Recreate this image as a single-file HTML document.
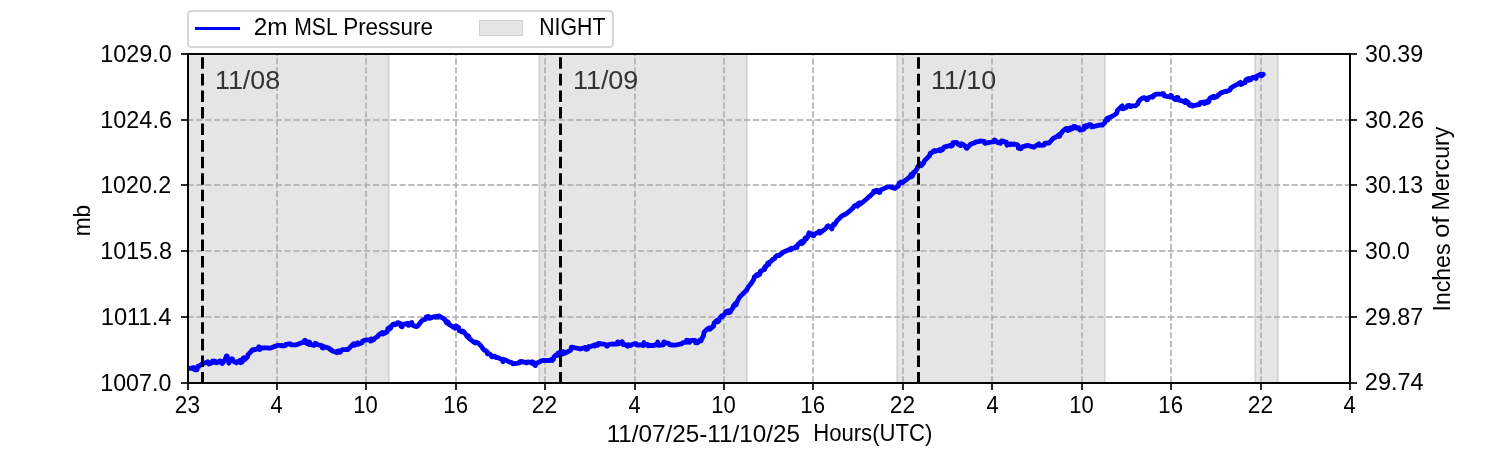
<!DOCTYPE html><html><head><meta charset="utf-8"><style>html,body{margin:0;padding:0;background:#fff;overflow:hidden}svg{display:block;will-change:transform}text{font-family:"Liberation Sans",sans-serif;white-space:pre}.tx{opacity:0.999}</style></head><body>
<svg width="1500" height="450" viewBox="0 0 1500 450">
<rect x="0" y="0" width="1500" height="450" fill="#fff"/>
<g shape-rendering="crispEdges">
<rect x="187" y="53" width="203" height="331" fill="#e5e5e5"/>
<rect x="388" y="53" width="1" height="331" fill="#d0d0d0"/>
<rect x="538" y="53" width="210" height="331" fill="#e5e5e5"/>
<rect x="539" y="53" width="1" height="331" fill="#d0d0d0"/>
<rect x="746" y="53" width="1" height="331" fill="#d0d0d0"/>
<rect x="896" y="53" width="210" height="331" fill="#e5e5e5"/>
<rect x="897" y="53" width="1" height="331" fill="#d0d0d0"/>
<rect x="1104" y="53" width="1" height="331" fill="#d0d0d0"/>
<rect x="1254" y="53" width="25" height="331" fill="#e5e5e5"/>
<rect x="1255" y="53" width="1" height="331" fill="#d0d0d0"/>
<rect x="1277" y="53" width="1" height="331" fill="#d0d0d0"/>
</g>
<g stroke="#b0b0b0" stroke-opacity="0.835" stroke-width="2" fill="none">
<path d="M277 382.5V54.0" stroke-dasharray="6.1667 2.6667"/>
<path d="M366 382.5V54.0" stroke-dasharray="6.1667 2.6667"/>
<path d="M456 382.5V54.0" stroke-dasharray="6.1667 2.6667"/>
<path d="M545 382.5V54.0" stroke-dasharray="6.1667 2.6667"/>
<path d="M635 382.5V54.0" stroke-dasharray="6.1667 2.6667"/>
<path d="M724 382.5V54.0" stroke-dasharray="6.1667 2.6667"/>
<path d="M813 382.5V54.0" stroke-dasharray="6.1667 2.6667"/>
<path d="M903 382.5V54.0" stroke-dasharray="6.1667 2.6667"/>
<path d="M992 382.5V54.0" stroke-dasharray="6.1667 2.6667"/>
<path d="M1082 382.5V54.0" stroke-dasharray="6.1667 2.6667"/>
<path d="M1171 382.5V54.0" stroke-dasharray="6.1667 2.6667"/>
<path d="M1261 382.5V54.0" stroke-dasharray="6.1667 2.6667"/>
<path d="M187.5 317H1350.0" stroke-dasharray="6.1667 2.6667"/>
<path d="M187.5 251H1350.0" stroke-dasharray="6.1667 2.6667"/>
<path d="M187.5 185H1350.0" stroke-dasharray="6.1667 2.6667"/>
<path d="M187.5 120H1350.0" stroke-dasharray="6.1667 2.6667"/>
</g>
<defs><clipPath id="ax"><rect x="187.5" y="54" width="1162.5" height="328.5"/></clipPath></defs>
<path clip-path="url(#ax)" d="M188.0 368.5 L188.6 368.4 L189.2 368.3 L189.8 368.3 L190.4 368.3 L191.0 368.2 L191.6 368.3 L192.2 368.2 L192.8 368.2 L193.4 367.5 L194.0 369.3 L194.6 369.2 L195.2 369.8 L195.8 369.8 L196.4 369.8 L197.0 369.8 L197.6 366.3 L198.2 366.3 L198.8 366.6 L199.4 365.6 L200.0 365.3 L200.6 364.9 L201.2 364.6 L201.8 364.2 L202.4 363.9 L203.0 363.6 L203.6 363.4 L204.2 363.2 L204.8 363.0 L205.4 362.7 L206.0 362.5 L206.6 362.3 L207.2 362.0 L207.8 361.8 L208.4 362.5 L209.0 364.0 L209.6 363.8 L210.2 363.5 L210.8 363.3 L211.4 363.1 L212.0 363.0 L212.6 361.0 L213.2 361.1 L213.8 361.1 L214.4 361.1 L215.0 361.2 L215.6 362.7 L216.2 362.8 L216.8 362.8 L217.4 361.8 L218.0 361.8 L218.6 361.9 L219.2 361.6 L219.8 361.0 L220.4 361.0 L221.0 362.8 L221.6 362.9 L222.2 363.5 L222.8 362.9 L223.4 361.7 L224.0 360.8 L224.6 360.4 L225.2 359.6 L225.8 357.7 L226.4 355.9 L227.0 355.8 L227.6 357.8 L228.2 359.8 L228.8 363.2 L229.4 360.2 L230.0 360.0 L230.6 359.7 L231.2 359.4 L231.8 358.6 L232.4 358.9 L233.0 361.0 L233.6 361.3 L234.2 361.7 L234.8 362.0 L235.4 362.3 L236.0 362.6 L236.6 362.9 L237.2 361.6 L237.8 361.6 L238.4 361.2 L239.0 361.0 L239.6 360.7 L240.2 360.3 L240.8 362.7 L241.4 362.4 L242.0 362.0 L242.6 361.7 L243.2 358.1 L243.8 357.7 L244.4 359.8 L245.0 359.4 L245.6 358.8 L246.2 358.2 L246.8 357.6 L247.4 357.1 L248.0 354.7 L248.6 354.1 L249.2 353.5 L249.8 352.9 L250.4 352.3 L251.0 351.7 L251.6 350.4 L252.2 350.0 L252.8 349.7 L253.4 350.0 L254.0 349.7 L254.6 349.4 L255.2 349.7 L255.8 349.4 L256.4 349.1 L257.0 348.8 L257.6 348.5 L258.2 348.2 L258.8 346.7 L259.4 349.6 L260.0 349.3 L260.6 349.0 L261.2 347.8 L261.8 347.9 L262.4 347.9 L263.0 347.9 L263.6 348.0 L264.2 347.7 L264.8 347.8 L265.4 347.8 L266.0 347.8 L266.6 347.9 L267.2 347.9 L267.8 348.0 L268.4 348.0 L269.0 348.1 L269.6 348.1 L270.2 348.2 L270.8 348.0 L271.4 347.7 L272.0 347.5 L272.6 347.2 L273.2 347.0 L273.8 346.7 L274.4 346.5 L275.0 346.2 L275.6 346.3 L276.2 346.1 L276.8 345.8 L277.4 345.6 L278.0 345.3 L278.6 345.2 L279.2 345.3 L279.8 345.3 L280.4 345.4 L281.0 345.8 L281.6 345.3 L282.2 345.4 L282.8 345.8 L283.4 345.8 L284.0 345.8 L284.6 345.9 L285.2 345.9 L285.8 344.5 L286.4 344.6 L287.0 344.1 L287.6 344.1 L288.2 344.0 L288.8 344.0 L289.4 344.0 L290.0 344.0 L290.6 344.0 L291.2 344.9 L291.8 344.9 L292.4 344.9 L293.0 344.8 L293.6 344.8 L294.2 344.8 L294.8 344.8 L295.4 345.0 L296.0 344.9 L296.6 344.7 L297.2 344.5 L297.8 344.3 L298.4 344.1 L299.0 343.8 L299.6 343.6 L300.2 343.2 L300.8 343.0 L301.4 342.9 L302.0 342.7 L302.6 342.5 L303.2 342.3 L303.8 342.1 L304.4 340.5 L305.0 340.3 L305.6 343.0 L306.2 343.2 L306.8 343.4 L307.4 343.6 L308.0 341.7 L308.6 341.9 L309.2 344.6 L309.8 342.3 L310.4 344.3 L311.0 344.5 L311.6 344.7 L312.2 344.9 L312.8 345.1 L313.4 345.2 L314.0 345.4 L314.6 344.9 L315.2 343.3 L315.8 343.5 L316.4 343.6 L317.0 344.6 L317.6 344.7 L318.2 344.9 L318.8 345.0 L319.4 345.1 L320.0 345.2 L320.6 345.3 L321.2 345.4 L321.8 345.5 L322.4 348.0 L323.0 348.1 L323.6 346.5 L324.2 346.7 L324.8 346.9 L325.4 347.0 L326.0 347.2 L326.6 347.4 L327.2 347.6 L327.8 347.8 L328.4 348.0 L329.0 348.1 L329.6 349.3 L330.2 349.5 L330.8 349.7 L331.4 349.9 L332.0 350.8 L332.6 351.0 L333.2 351.3 L333.8 351.5 L334.4 351.7 L335.0 352.0 L335.6 352.2 L336.2 352.4 L336.8 352.7 L337.4 351.1 L338.0 351.0 L338.6 351.0 L339.2 351.0 L339.8 352.3 L340.4 352.2 L341.0 350.5 L341.6 350.4 L342.2 349.7 L342.8 349.7 L343.4 349.7 L344.0 349.6 L344.6 349.6 L345.2 349.6 L345.8 349.5 L346.4 349.5 L347.0 349.7 L347.6 349.7 L348.2 349.2 L348.8 348.6 L349.4 348.0 L350.0 347.4 L350.6 346.8 L351.2 346.1 L351.8 345.5 L352.4 344.9 L353.0 344.3 L353.6 343.7 L354.2 345.4 L354.8 345.1 L355.4 344.9 L356.0 344.6 L356.6 343.3 L357.2 343.0 L357.8 342.8 L358.4 344.2 L359.0 343.9 L359.6 343.7 L360.2 343.5 L360.8 343.3 L361.4 343.0 L362.0 342.8 L362.6 341.0 L363.2 340.8 L363.8 340.6 L364.4 340.4 L365.0 340.1 L365.6 340.1 L366.2 339.8 L366.8 339.8 L367.4 339.8 L368.0 339.8 L368.6 339.8 L369.2 340.4 L369.8 340.4 L370.4 341.0 L371.0 338.9 L371.6 340.7 L372.2 340.4 L372.8 340.0 L373.4 339.6 L374.0 339.4 L374.6 338.3 L375.2 337.9 L375.8 337.6 L376.4 337.3 L377.0 336.9 L377.6 336.5 L378.2 336.2 L378.8 334.6 L379.4 334.3 L380.0 333.9 L380.6 333.6 L381.2 333.2 L381.8 332.8 L382.4 332.5 L383.0 334.1 L383.6 333.7 L384.2 333.3 L384.8 333.0 L385.4 332.5 L386.0 332.0 L386.6 332.4 L387.2 331.8 L387.8 328.6 L388.4 328.0 L389.0 327.5 L389.6 329.1 L390.2 328.5 L390.8 328.0 L391.4 325.9 L392.0 325.5 L392.6 324.6 L393.2 324.4 L393.8 324.1 L394.4 323.9 L395.0 324.8 L395.6 324.5 L396.2 324.3 L396.8 324.1 L397.4 322.6 L398.0 322.6 L398.6 322.8 L399.2 323.0 L399.8 323.2 L400.4 323.9 L401.0 326.4 L401.6 326.6 L402.2 326.8 L402.8 324.2 L403.4 324.3 L404.0 324.3 L404.6 324.2 L405.2 324.0 L405.8 323.8 L406.4 323.6 L407.0 323.5 L407.6 323.3 L408.2 325.4 L408.8 325.3 L409.4 324.2 L410.0 324.0 L410.6 323.9 L411.2 322.6 L411.8 322.5 L412.4 325.3 L413.0 325.5 L413.6 325.7 L414.2 325.9 L414.8 326.1 L415.4 326.2 L416.0 326.4 L416.6 326.6 L417.2 326.5 L417.8 325.7 L418.4 325.0 L419.0 324.2 L419.6 323.5 L420.2 322.7 L420.8 322.0 L421.4 321.2 L422.0 320.5 L422.6 320.0 L423.2 319.9 L423.8 319.7 L424.4 319.5 L425.0 319.4 L425.6 319.2 L426.2 317.1 L426.8 316.9 L427.4 316.8 L428.0 316.6 L428.6 316.4 L429.2 318.4 L429.8 318.2 L430.4 318.1 L431.0 317.8 L431.6 317.6 L432.2 317.4 L432.8 317.2 L433.4 316.9 L434.0 316.7 L434.6 316.7 L435.2 317.0 L435.8 317.3 L436.4 316.4 L437.0 316.6 L437.6 316.9 L438.2 317.2 L438.8 315.9 L439.4 316.2 L440.0 316.7 L440.6 316.9 L441.2 317.2 L441.8 317.6 L442.4 317.9 L443.0 318.3 L443.6 318.7 L444.2 319.0 L444.8 319.4 L445.4 321.0 L446.0 321.3 L446.6 322.9 L447.2 321.6 L447.8 322.0 L448.4 322.4 L449.0 324.4 L449.6 324.8 L450.2 325.2 L450.8 325.5 L451.4 325.9 L452.0 326.3 L452.6 326.7 L453.2 327.0 L453.8 327.4 L454.4 327.8 L455.0 328.2 L455.6 326.0 L456.2 326.0 L456.8 326.4 L457.4 326.7 L458.0 327.1 L458.6 327.4 L459.2 330.7 L459.8 331.1 L460.4 331.1 L461.0 331.4 L461.6 331.8 L462.2 332.1 L462.8 331.1 L463.4 331.4 L464.0 332.0 L464.6 332.8 L465.2 333.6 L465.8 334.4 L466.4 335.2 L467.0 336.3 L467.6 337.1 L468.2 335.8 L468.8 336.6 L469.4 338.6 L470.0 339.1 L470.6 339.6 L471.2 340.0 L471.8 340.5 L472.4 341.0 L473.0 341.5 L473.6 341.9 L474.2 342.4 L474.8 342.7 L475.4 343.0 L476.0 342.1 L476.6 342.3 L477.2 342.6 L477.8 342.9 L478.4 343.2 L479.0 343.9 L479.6 344.5 L480.2 345.2 L480.8 345.8 L481.4 346.5 L482.0 347.1 L482.6 348.3 L483.2 348.9 L483.8 349.6 L484.4 350.2 L485.0 350.2 L485.6 350.7 L486.2 351.2 L486.8 351.7 L487.4 353.9 L488.0 352.8 L488.6 353.3 L489.2 353.8 L489.8 354.3 L490.4 354.7 L491.0 355.2 L491.6 356.7 L492.2 356.8 L492.8 356.9 L493.4 356.1 L494.0 356.2 L494.6 356.2 L495.2 356.3 L495.8 357.5 L496.4 357.5 L497.0 357.6 L497.6 357.7 L498.2 357.7 L498.8 358.0 L499.4 358.3 L500.0 358.6 L500.6 358.9 L501.2 359.2 L501.8 359.6 L502.4 359.9 L503.0 361.8 L503.6 359.3 L504.2 359.6 L504.8 359.9 L505.4 360.1 L506.0 360.3 L506.6 360.4 L507.2 361.0 L507.8 361.2 L508.4 361.7 L509.0 361.8 L509.6 362.0 L510.2 362.1 L510.8 362.5 L511.4 362.6 L512.0 362.6 L512.6 363.8 L513.2 363.8 L513.8 363.7 L514.4 363.6 L515.0 363.5 L515.6 363.5 L516.2 363.4 L516.8 363.3 L517.4 363.2 L518.0 363.1 L518.6 363.1 L519.2 363.0 L519.8 361.7 L520.4 361.6 L521.0 361.5 L521.6 361.5 L522.2 361.5 L522.8 362.2 L523.4 362.2 L524.0 362.2 L524.6 362.1 L525.2 362.1 L525.8 362.8 L526.4 362.8 L527.0 362.8 L527.6 361.9 L528.2 361.9 L528.8 361.9 L529.4 362.0 L530.0 362.3 L530.6 362.6 L531.2 363.0 L531.8 363.2 L532.4 361.8 L533.0 362.1 L533.6 362.4 L534.2 364.6 L534.8 365.3 L535.4 365.6 L536.0 363.6 L536.6 363.3 L537.2 363.0 L537.8 362.7 L538.4 362.4 L539.0 362.1 L539.6 361.8 L540.2 361.5 L540.8 361.2 L541.4 360.9 L542.0 360.6 L542.6 360.5 L543.2 360.5 L543.8 360.5 L544.4 360.5 L545.0 360.5 L545.6 360.5 L546.2 360.5 L546.8 360.5 L547.4 360.5 L548.0 360.5 L548.6 360.5 L549.2 360.5 L549.8 360.5 L550.4 360.4 L551.0 359.8 L551.6 359.2 L552.2 360.5 L552.8 359.9 L553.4 359.4 L554.0 356.8 L554.6 356.3 L555.2 355.7 L555.8 355.1 L556.4 354.9 L557.0 355.5 L557.6 355.3 L558.2 353.0 L558.8 352.8 L559.4 352.6 L560.0 352.4 L560.6 352.4 L561.2 352.6 L561.8 354.2 L562.4 354.0 L563.0 351.8 L563.6 351.6 L564.2 353.5 L564.8 353.3 L565.4 353.0 L566.0 352.7 L566.6 352.4 L567.2 352.0 L567.8 351.7 L568.4 351.4 L569.0 351.1 L569.6 350.8 L570.2 350.4 L570.8 350.1 L571.4 347.2 L572.0 347.1 L572.6 347.3 L573.2 347.4 L573.8 347.6 L574.4 347.7 L575.0 347.8 L575.6 348.0 L576.2 348.1 L576.8 348.1 L577.4 348.2 L578.0 348.4 L578.6 348.5 L579.2 348.6 L579.8 348.7 L580.4 349.0 L581.0 348.8 L581.6 348.6 L582.2 348.4 L582.8 348.2 L583.4 348.0 L584.0 347.8 L584.6 347.6 L585.2 347.4 L585.8 349.4 L586.4 349.4 L587.0 349.2 L587.6 349.0 L588.2 346.8 L588.8 346.5 L589.4 347.0 L590.0 346.8 L590.6 346.5 L591.2 346.3 L591.8 346.1 L592.4 345.8 L593.0 345.6 L593.6 345.3 L594.2 345.1 L594.8 346.1 L595.4 344.8 L596.0 344.6 L596.6 345.4 L597.2 345.2 L597.8 345.3 L598.4 343.4 L599.0 343.5 L599.6 343.5 L600.2 343.6 L600.8 343.6 L601.4 344.0 L602.0 344.1 L602.6 344.1 L603.2 344.2 L603.8 344.2 L604.4 344.2 L605.0 344.3 L605.6 344.8 L606.2 344.8 L606.8 346.2 L607.4 346.1 L608.0 344.7 L608.6 344.6 L609.2 344.5 L609.8 344.4 L610.4 344.3 L611.0 344.2 L611.6 344.1 L612.2 344.0 L612.8 343.9 L613.4 344.3 L614.0 344.2 L614.6 344.1 L615.2 344.1 L615.8 344.1 L616.4 344.1 L617.0 344.1 L617.6 341.9 L618.2 343.8 L618.8 343.8 L619.4 342.8 L620.0 342.8 L620.6 342.8 L621.2 342.1 L621.8 341.7 L622.4 341.7 L623.0 344.6 L623.6 344.6 L624.2 344.5 L624.8 344.5 L625.4 344.8 L626.0 345.1 L626.6 345.5 L627.2 345.8 L627.8 346.2 L628.4 344.7 L629.0 345.0 L629.6 345.4 L630.2 345.6 L630.8 345.3 L631.4 345.1 L632.0 344.6 L632.6 344.4 L633.2 344.1 L633.8 344.0 L634.4 343.8 L635.0 343.6 L635.6 343.6 L636.2 343.6 L636.8 345.0 L637.4 345.0 L638.0 345.0 L638.6 345.0 L639.2 345.0 L639.8 344.8 L640.4 344.8 L641.0 344.8 L641.6 344.8 L642.2 344.8 L642.8 345.6 L643.4 345.6 L644.0 342.5 L644.6 344.3 L645.2 344.3 L645.8 344.3 L646.4 344.3 L647.0 344.3 L647.6 344.3 L648.2 345.7 L648.8 345.5 L649.4 345.5 L650.0 345.5 L650.6 345.5 L651.2 345.5 L651.8 345.5 L652.4 345.5 L653.0 345.5 L653.6 345.5 L654.2 345.2 L654.8 345.2 L655.4 345.1 L656.0 344.2 L656.6 344.1 L657.2 344.0 L657.8 342.0 L658.4 345.4 L659.0 345.4 L659.6 345.3 L660.2 345.2 L660.8 345.2 L661.4 345.1 L662.0 345.1 L662.6 345.0 L663.2 344.9 L663.8 342.0 L664.4 342.0 L665.0 342.6 L665.6 342.6 L666.2 343.1 L666.8 343.2 L667.4 343.2 L668.0 343.2 L668.6 343.3 L669.2 343.8 L669.8 344.9 L670.4 344.9 L671.0 345.0 L671.6 345.0 L672.2 345.0 L672.8 345.0 L673.4 345.1 L674.0 345.1 L674.6 345.1 L675.2 345.1 L675.8 345.0 L676.4 344.9 L677.0 344.8 L677.6 344.6 L678.2 344.5 L678.8 344.4 L679.4 344.3 L680.0 344.2 L680.6 344.0 L681.2 343.9 L681.8 343.8 L682.4 342.8 L683.0 342.7 L683.6 342.6 L684.2 342.5 L684.8 342.4 L685.4 342.3 L686.0 342.4 L686.6 340.2 L687.2 340.3 L687.8 340.3 L688.4 340.3 L689.0 342.4 L689.6 342.4 L690.2 341.1 L690.8 341.1 L691.4 340.3 L692.0 340.3 L692.6 340.3 L693.2 340.4 L693.8 340.4 L694.4 340.4 L695.0 340.4 L695.6 342.8 L696.2 342.8 L696.8 342.7 L697.4 342.8 L698.0 341.8 L698.6 341.8 L699.2 340.7 L699.8 340.6 L700.4 339.7 L701.0 340.8 L701.6 339.5 L702.2 338.2 L702.8 336.9 L703.4 336.0 L704.0 332.3 L704.6 331.7 L705.2 331.1 L705.8 330.5 L706.4 329.9 L707.0 329.3 L707.6 328.7 L708.2 329.1 L708.8 328.5 L709.4 327.9 L710.0 329.2 L710.6 328.6 L711.2 328.0 L711.8 327.7 L712.4 327.1 L713.0 325.7 L713.6 326.1 L714.2 322.8 L714.8 322.3 L715.4 321.7 L716.0 321.2 L716.6 320.7 L717.2 320.2 L717.8 321.8 L718.4 321.2 L719.0 320.7 L719.6 318.3 L720.2 317.6 L720.8 316.9 L721.4 316.1 L722.0 317.1 L722.6 316.4 L723.2 315.7 L723.8 315.0 L724.4 314.3 L725.0 313.6 L725.6 312.0 L726.2 311.7 L726.8 311.4 L727.4 311.1 L728.0 310.8 L728.6 312.9 L729.2 312.6 L729.8 312.3 L730.4 312.0 L731.0 310.4 L731.6 309.6 L732.2 308.8 L732.8 308.0 L733.4 306.0 L734.0 305.2 L734.6 304.4 L735.2 303.6 L735.8 305.0 L736.4 304.2 L737.0 301.9 L737.6 300.8 L738.2 299.7 L738.8 298.6 L739.4 297.5 L740.0 296.7 L740.6 296.1 L741.2 295.5 L741.8 294.9 L742.4 294.3 L743.0 293.7 L743.6 293.1 L744.2 292.5 L744.8 291.9 L745.4 291.3 L746.0 290.5 L746.6 290.5 L747.2 289.1 L747.8 287.7 L748.4 286.9 L749.0 286.1 L749.6 285.3 L750.2 284.6 L750.8 284.1 L751.4 283.1 L752.0 282.2 L752.6 281.2 L753.2 280.2 L753.8 279.2 L754.4 276.6 L755.0 276.8 L755.6 275.9 L756.2 275.1 L756.8 274.7 L757.4 274.3 L758.0 275.4 L758.6 275.0 L759.2 274.6 L759.8 274.3 L760.4 271.1 L761.0 270.8 L761.6 271.0 L762.2 270.6 L762.8 270.2 L763.4 269.6 L764.0 268.6 L764.6 269.5 L765.2 266.5 L765.8 267.1 L766.4 266.2 L767.0 265.2 L767.6 263.3 L768.2 262.9 L768.8 264.5 L769.4 262.4 L770.0 262.0 L770.6 261.6 L771.2 261.1 L771.8 260.7 L772.4 259.5 L773.0 259.1 L773.6 259.2 L774.2 258.8 L774.8 258.4 L775.4 256.8 L776.0 256.3 L776.6 255.9 L777.2 255.4 L777.8 255.7 L778.4 255.3 L779.0 255.6 L779.6 255.1 L780.2 254.7 L780.8 254.2 L781.4 253.8 L782.0 253.3 L782.6 252.6 L783.2 252.3 L783.8 251.9 L784.4 251.6 L785.0 251.4 L785.6 251.1 L786.2 250.9 L786.8 250.6 L787.4 250.3 L788.0 250.1 L788.6 249.8 L789.2 249.6 L789.8 249.4 L790.4 249.8 L791.0 248.3 L791.6 249.0 L792.2 248.7 L792.8 248.4 L793.4 248.2 L794.0 247.9 L794.6 247.6 L795.2 247.0 L795.8 247.9 L796.4 247.6 L797.0 247.3 L797.6 244.9 L798.2 244.3 L798.8 243.8 L799.4 243.2 L800.0 242.7 L800.6 242.1 L801.2 241.6 L801.8 243.7 L802.4 243.2 L803.0 242.6 L803.6 242.0 L804.2 241.5 L804.8 238.6 L805.4 237.9 L806.0 239.2 L806.6 238.5 L807.2 237.8 L807.8 237.1 L808.4 234.7 L809.0 232.7 L809.6 234.3 L810.2 233.4 L810.8 233.5 L811.4 233.7 L812.0 235.2 L812.6 235.4 L813.2 235.5 L813.8 235.6 L814.4 234.0 L815.0 233.9 L815.6 233.6 L816.2 233.3 L816.8 233.0 L817.4 232.7 L818.0 232.8 L818.6 232.5 L819.2 231.3 L819.8 233.1 L820.4 232.7 L821.0 232.2 L821.6 231.7 L822.2 231.2 L822.8 230.7 L823.4 230.2 L824.0 230.0 L824.6 229.5 L825.2 229.0 L825.8 228.5 L826.4 227.8 L827.0 226.6 L827.6 226.1 L828.2 225.7 L828.8 226.2 L829.4 226.6 L830.0 227.1 L830.6 227.6 L831.2 228.0 L831.8 229.0 L832.4 226.0 L833.0 225.1 L833.6 224.2 L834.2 225.1 L834.8 224.2 L835.4 223.3 L836.0 222.6 L836.6 221.2 L837.2 220.5 L837.8 219.8 L838.4 219.4 L839.0 218.7 L839.6 218.0 L840.2 217.6 L840.8 217.2 L841.4 216.3 L842.0 215.9 L842.6 215.5 L843.2 215.2 L843.8 214.8 L844.4 214.8 L845.0 214.5 L845.6 214.1 L846.2 213.7 L846.8 213.3 L847.4 212.8 L848.0 212.3 L848.6 211.8 L849.2 211.3 L849.8 210.8 L850.4 210.3 L851.0 209.8 L851.6 209.2 L852.2 208.7 L852.8 208.2 L853.4 207.7 L854.0 206.1 L854.6 205.8 L855.2 205.5 L855.8 205.1 L856.4 204.8 L857.0 204.7 L857.6 206.2 L858.2 203.4 L858.8 203.1 L859.4 202.8 L860.0 204.2 L860.6 203.9 L861.2 203.5 L861.8 203.0 L862.4 202.5 L863.0 202.0 L863.6 201.5 L864.2 201.0 L864.8 200.5 L865.4 200.0 L866.0 199.5 L866.6 199.0 L867.2 198.5 L867.8 197.9 L868.4 197.3 L869.0 196.6 L869.6 196.5 L870.2 195.9 L870.8 195.3 L871.4 194.7 L872.0 194.1 L872.6 193.5 L873.2 192.8 L873.8 191.2 L874.4 191.1 L875.0 192.0 L875.6 190.3 L876.2 190.3 L876.8 190.2 L877.4 191.3 L878.0 191.2 L878.6 191.1 L879.2 192.5 L879.8 192.4 L880.4 190.1 L881.0 189.9 L881.6 189.6 L882.2 189.3 L882.8 189.1 L883.4 188.8 L884.0 188.5 L884.6 188.3 L885.2 188.0 L885.8 187.7 L886.4 187.5 L887.0 187.2 L887.6 186.9 L888.2 186.9 L888.8 186.9 L889.4 186.9 L890.0 186.9 L890.6 186.9 L891.2 187.4 L891.8 187.4 L892.4 186.7 L893.0 188.1 L893.6 188.1 L894.2 188.1 L894.8 188.4 L895.4 188.0 L896.0 187.6 L896.6 187.2 L897.2 186.8 L897.8 186.4 L898.4 186.1 L899.0 183.3 L899.6 182.9 L900.2 182.5 L900.8 182.0 L901.4 182.6 L902.0 182.9 L902.6 182.5 L903.2 182.0 L903.8 181.6 L904.4 181.1 L905.0 180.7 L905.6 180.2 L906.2 179.8 L906.8 179.4 L907.4 178.9 L908.0 178.4 L908.6 177.9 L909.2 177.4 L909.8 176.9 L910.4 176.4 L911.0 174.5 L911.6 176.7 L912.2 176.1 L912.8 175.4 L913.4 172.5 L914.0 172.7 L914.6 172.3 L915.2 171.6 L915.8 170.4 L916.4 169.7 L917.0 169.1 L917.6 166.9 L918.2 166.2 L918.8 165.5 L919.4 165.3 L920.0 164.6 L920.6 163.9 L921.2 165.7 L921.8 165.0 L922.4 164.4 L923.0 163.7 L923.6 163.0 L924.2 161.2 L924.8 160.5 L925.4 159.8 L926.0 159.2 L926.6 158.6 L927.2 158.0 L927.8 157.4 L928.4 156.8 L929.0 156.2 L929.6 155.6 L930.2 153.1 L930.8 152.8 L931.4 153.1 L932.0 152.5 L932.6 151.9 L933.2 151.4 L933.8 150.7 L934.4 150.5 L935.0 151.4 L935.6 151.2 L936.2 151.0 L936.8 150.8 L937.4 150.6 L938.0 150.4 L938.6 150.1 L939.2 149.8 L939.8 149.5 L940.4 150.8 L941.0 150.4 L941.6 150.1 L942.2 149.8 L942.8 149.5 L943.4 147.9 L944.0 147.0 L944.6 146.9 L945.2 146.7 L945.8 146.6 L946.4 146.4 L947.0 146.3 L947.6 146.2 L948.2 146.0 L948.8 145.9 L949.4 145.7 L950.0 145.4 L950.6 145.3 L951.2 146.3 L951.8 145.9 L952.4 145.4 L953.0 142.6 L953.6 143.0 L954.2 142.5 L954.8 142.5 L955.4 142.3 L956.0 142.4 L956.6 142.6 L957.2 142.8 L957.8 144.3 L958.4 144.5 L959.0 144.7 L959.6 145.2 L960.2 145.4 L960.8 145.6 L961.4 143.7 L962.0 144.1 L962.6 144.1 L963.2 144.5 L963.8 145.0 L964.4 145.4 L965.0 146.2 L965.6 146.7 L966.2 148.1 L966.8 148.4 L967.4 147.7 L968.0 147.0 L968.6 146.4 L969.2 145.7 L969.8 145.1 L970.4 144.4 L971.0 143.8 L971.6 144.0 L972.2 143.4 L972.8 143.3 L973.4 143.2 L974.0 143.1 L974.6 143.0 L975.2 142.0 L975.8 141.9 L976.4 141.8 L977.0 141.8 L977.6 141.7 L978.2 141.6 L978.8 141.5 L979.4 141.5 L980.0 141.0 L980.6 141.0 L981.2 141.1 L981.8 141.1 L982.4 141.2 L983.0 141.3 L983.6 141.3 L984.2 141.4 L984.8 143.3 L985.4 143.4 L986.0 142.9 L986.6 142.9 L987.2 142.8 L987.8 142.7 L988.4 142.5 L989.0 142.4 L989.6 142.3 L990.2 142.3 L990.8 142.2 L991.4 142.1 L992.0 142.0 L992.6 141.9 L993.2 141.8 L993.8 141.8 L994.4 139.9 L995.0 140.0 L995.6 141.2 L996.2 141.3 L996.8 141.5 L997.4 142.5 L998.0 142.6 L998.6 142.8 L999.2 143.0 L999.8 143.1 L1000.4 143.3 L1001.0 141.8 L1001.6 140.8 L1002.2 140.9 L1002.8 141.0 L1003.4 141.1 L1004.0 141.8 L1004.6 141.9 L1005.2 142.0 L1005.8 142.1 L1006.4 142.2 L1007.0 145.3 L1007.6 144.1 L1008.2 144.2 L1008.8 144.3 L1009.4 144.6 L1010.0 144.8 L1010.6 143.8 L1011.2 143.9 L1011.8 144.1 L1012.4 144.3 L1013.0 144.4 L1013.6 144.6 L1014.2 144.0 L1014.8 144.2 L1015.4 144.3 L1016.0 144.5 L1016.6 144.6 L1017.2 144.8 L1017.8 145.0 L1018.4 148.3 L1019.0 148.5 L1019.6 148.6 L1020.2 148.8 L1020.8 148.6 L1021.4 148.4 L1022.0 146.9 L1022.6 146.8 L1023.2 146.6 L1023.8 146.4 L1024.4 146.3 L1025.0 146.1 L1025.6 145.9 L1026.2 145.8 L1026.8 145.6 L1027.4 145.3 L1028.0 145.5 L1028.6 145.7 L1029.2 145.8 L1029.8 146.0 L1030.4 146.2 L1031.0 146.4 L1031.6 146.5 L1032.2 146.7 L1032.8 146.9 L1033.4 147.0 L1034.0 147.2 L1034.6 146.5 L1035.2 146.2 L1035.8 145.8 L1036.4 145.4 L1037.0 145.1 L1037.6 144.7 L1038.2 144.3 L1038.8 143.9 L1039.4 145.4 L1040.0 145.4 L1040.6 145.3 L1041.2 145.3 L1041.8 145.3 L1042.4 145.2 L1043.0 145.2 L1043.6 145.2 L1044.2 145.1 L1044.8 143.2 L1045.4 143.2 L1046.0 143.1 L1046.6 143.1 L1047.2 143.1 L1047.8 143.0 L1048.4 142.7 L1049.0 143.0 L1049.6 142.4 L1050.2 141.7 L1050.8 141.1 L1051.4 140.4 L1052.0 139.8 L1052.6 139.1 L1053.2 138.5 L1053.8 138.1 L1054.4 137.8 L1055.0 137.5 L1055.6 137.2 L1056.2 136.9 L1056.8 136.6 L1057.4 136.3 L1058.0 135.3 L1058.6 135.0 L1059.2 134.7 L1059.8 136.3 L1060.4 133.8 L1061.0 133.4 L1061.6 132.9 L1062.2 131.6 L1062.8 131.1 L1063.4 130.6 L1064.0 130.1 L1064.6 129.7 L1065.2 129.2 L1065.8 128.7 L1066.4 128.4 L1067.0 129.3 L1067.6 130.6 L1068.2 130.4 L1068.8 130.2 L1069.4 128.2 L1070.0 128.0 L1070.6 127.8 L1071.2 129.2 L1071.8 129.0 L1072.4 128.8 L1073.0 127.8 L1073.6 126.3 L1074.2 126.4 L1074.8 126.6 L1075.4 126.7 L1076.0 128.0 L1076.6 127.5 L1077.2 127.6 L1077.8 127.8 L1078.4 127.9 L1079.0 127.7 L1079.6 129.8 L1080.2 130.1 L1080.8 130.0 L1081.4 129.8 L1082.0 129.7 L1082.6 129.5 L1083.2 129.4 L1083.8 129.2 L1084.4 126.1 L1085.0 126.0 L1085.6 125.8 L1086.2 125.7 L1086.8 126.9 L1087.4 125.2 L1088.0 125.0 L1088.6 124.9 L1089.2 124.7 L1089.8 124.6 L1090.4 125.5 L1091.0 124.8 L1091.6 127.0 L1092.2 126.9 L1092.8 126.7 L1093.4 126.6 L1094.0 126.4 L1094.6 126.3 L1095.2 126.1 L1095.8 126.0 L1096.4 125.8 L1097.0 125.7 L1097.6 125.5 L1098.2 125.4 L1098.8 125.2 L1099.4 125.1 L1100.0 125.0 L1100.6 125.0 L1101.2 125.0 L1101.8 125.0 L1102.4 125.0 L1103.0 124.7 L1103.6 123.6 L1104.2 123.5 L1104.8 122.8 L1105.4 120.5 L1106.0 119.8 L1106.6 119.0 L1107.2 118.3 L1107.8 119.9 L1108.4 119.2 L1109.0 117.6 L1109.6 117.2 L1110.2 117.5 L1110.8 117.1 L1111.4 116.7 L1112.0 116.4 L1112.6 116.0 L1113.2 115.6 L1113.8 115.3 L1114.4 114.9 L1115.0 114.5 L1115.6 114.1 L1116.2 113.5 L1116.8 112.9 L1117.4 110.5 L1118.0 109.9 L1118.6 109.3 L1119.2 108.7 L1119.8 108.1 L1120.4 107.5 L1121.0 106.9 L1121.6 106.3 L1122.2 105.9 L1122.8 108.9 L1123.4 108.6 L1124.0 108.4 L1124.6 108.1 L1125.2 107.9 L1125.8 107.6 L1126.4 107.4 L1127.0 106.3 L1127.6 105.6 L1128.2 105.3 L1128.8 105.3 L1129.4 105.3 L1130.0 106.5 L1130.6 106.5 L1131.2 106.5 L1131.8 105.8 L1132.4 105.8 L1133.0 105.8 L1133.6 105.8 L1134.2 105.8 L1134.8 105.9 L1135.4 105.8 L1136.0 105.3 L1136.6 104.8 L1137.2 104.4 L1137.8 103.9 L1138.4 101.8 L1139.0 101.4 L1139.6 100.2 L1140.2 99.7 L1140.8 99.3 L1141.4 98.8 L1142.0 98.4 L1142.6 98.1 L1143.2 97.9 L1143.8 97.8 L1144.4 97.6 L1145.0 98.5 L1145.6 98.4 L1146.2 98.3 L1146.8 99.8 L1147.4 99.6 L1148.0 97.9 L1148.6 97.7 L1149.2 97.6 L1149.8 97.4 L1150.4 97.1 L1151.0 96.8 L1151.6 96.6 L1152.2 96.3 L1152.8 97.1 L1153.4 96.3 L1154.0 95.2 L1154.6 94.9 L1155.2 94.6 L1155.8 94.4 L1156.4 94.1 L1157.0 94.1 L1157.6 94.1 L1158.2 94.1 L1158.8 94.1 L1159.4 94.1 L1160.0 94.1 L1160.6 94.1 L1161.2 94.1 L1161.8 93.7 L1162.4 93.7 L1163.0 93.7 L1163.6 93.7 L1164.2 95.9 L1164.8 96.0 L1165.4 96.1 L1166.0 96.2 L1166.6 96.4 L1167.2 96.5 L1167.8 96.6 L1168.4 96.7 L1169.0 96.8 L1169.6 97.0 L1170.2 96.8 L1170.8 95.3 L1171.4 95.6 L1172.0 97.3 L1172.6 97.5 L1173.2 97.8 L1173.8 98.0 L1174.4 99.2 L1175.0 99.4 L1175.6 99.7 L1176.2 99.3 L1176.8 97.4 L1177.4 97.6 L1178.0 97.7 L1178.6 99.9 L1179.2 100.1 L1179.8 100.3 L1180.4 100.5 L1181.0 100.7 L1181.6 100.8 L1182.2 101.0 L1182.8 101.2 L1183.4 101.4 L1184.0 101.7 L1184.6 102.2 L1185.2 102.7 L1185.8 100.5 L1186.4 101.0 L1187.0 101.4 L1187.6 101.9 L1188.2 102.4 L1188.8 104.6 L1189.4 105.0 L1190.0 105.4 L1190.6 105.2 L1191.2 105.1 L1191.8 104.9 L1192.4 106.1 L1193.0 105.9 L1193.6 105.7 L1194.2 105.5 L1194.8 105.4 L1195.4 105.2 L1196.0 105.0 L1196.6 104.9 L1197.2 104.8 L1197.8 104.6 L1198.4 104.8 L1199.0 104.7 L1199.6 104.6 L1200.2 102.7 L1200.8 102.6 L1201.4 102.4 L1202.0 102.3 L1202.6 102.2 L1203.2 102.1 L1203.8 102.0 L1204.4 103.5 L1205.0 103.2 L1205.6 103.0 L1206.2 102.6 L1206.8 101.2 L1207.4 102.5 L1208.0 102.2 L1208.6 102.0 L1209.2 100.6 L1209.8 98.1 L1210.4 97.8 L1211.0 97.6 L1211.6 97.3 L1212.2 97.0 L1212.8 96.6 L1213.4 96.3 L1214.0 97.7 L1214.6 97.3 L1215.2 97.0 L1215.8 96.6 L1216.4 96.9 L1217.0 96.5 L1217.6 96.1 L1218.2 95.0 L1218.8 94.6 L1219.4 94.3 L1220.0 94.0 L1220.6 93.1 L1221.2 92.9 L1221.8 92.6 L1222.4 92.4 L1223.0 92.2 L1223.6 91.9 L1224.2 91.7 L1224.8 91.4 L1225.4 91.2 L1226.0 91.6 L1226.6 91.4 L1227.2 91.2 L1227.8 90.9 L1228.4 90.6 L1229.0 90.3 L1229.6 90.1 L1230.2 89.8 L1230.8 88.0 L1231.4 87.7 L1232.0 87.4 L1232.6 86.8 L1233.2 86.5 L1233.8 86.2 L1234.4 85.9 L1235.0 85.6 L1235.6 85.2 L1236.2 84.9 L1236.8 84.6 L1237.4 84.3 L1238.0 83.9 L1238.6 83.5 L1239.2 83.2 L1239.8 82.8 L1240.4 82.4 L1241.0 84.6 L1241.6 84.2 L1242.2 83.8 L1242.8 83.5 L1243.4 83.2 L1244.0 82.9 L1244.6 82.6 L1245.2 82.7 L1245.8 79.8 L1246.4 79.5 L1247.0 79.2 L1247.6 78.9 L1248.2 78.6 L1248.8 80.2 L1249.4 80.0 L1250.0 79.8 L1250.6 79.7 L1251.2 79.5 L1251.8 77.9 L1252.4 77.7 L1253.0 77.6 L1253.6 77.4 L1254.2 77.3 L1254.8 77.1 L1255.4 76.9 L1256.0 78.5 L1256.6 76.3 L1257.2 76.0 L1257.8 75.7 L1258.4 75.4 L1259.0 75.1 L1259.6 74.8 L1260.2 74.5 L1260.8 74.2 L1261.4 75.9 L1262.0 75.4 L1262.6 74.9 L1263.2 74.4" fill="none" stroke="#0000ff" stroke-width="4.8" stroke-linejoin="round" stroke-linecap="round"/>
<g stroke="#000" stroke-width="3" fill="none">
<path d="M202.5 383.5V54.0" stroke-dasharray="11.5625 5"/>
<path d="M560.5 383.5V54.0" stroke-dasharray="11.5625 5"/>
<path d="M918.5 383.5V54.0" stroke-dasharray="11.5625 5"/>
</g>
<g fill="#050505" shape-rendering="crispEdges">
<rect x="187" y="53" width="1164" height="2"/>
<rect x="187" y="382" width="1164" height="2"/>
<rect x="187" y="53" width="2" height="331"/>
<rect x="1349" y="53" width="2" height="331"/>
</g>
<g fill="#2a2a2a" shape-rendering="crispEdges">
<rect x="187" y="384" width="2" height="6"/>
<rect x="276" y="384" width="2" height="6"/>
<rect x="365" y="384" width="2" height="6"/>
<rect x="455" y="384" width="2" height="6"/>
<rect x="544" y="384" width="2" height="6"/>
<rect x="634" y="384" width="2" height="6"/>
<rect x="723" y="384" width="2" height="6"/>
<rect x="812" y="384" width="2" height="6"/>
<rect x="902" y="384" width="2" height="6"/>
<rect x="991" y="384" width="2" height="6"/>
<rect x="1081" y="384" width="2" height="6"/>
<rect x="1170" y="384" width="2" height="6"/>
<rect x="1260" y="384" width="2" height="6"/>
<rect x="1349" y="384" width="2" height="6"/>
<rect x="181" y="382" width="6" height="2"/>
<rect x="1351" y="382" width="6" height="2"/>
<rect x="181" y="316" width="6" height="2"/>
<rect x="1351" y="316" width="6" height="2"/>
<rect x="181" y="250" width="6" height="2"/>
<rect x="1351" y="250" width="6" height="2"/>
<rect x="181" y="184" width="6" height="2"/>
<rect x="1351" y="184" width="6" height="2"/>
<rect x="181" y="119" width="6" height="2"/>
<rect x="1351" y="119" width="6" height="2"/>
<rect x="181" y="53" width="6" height="2"/>
<rect x="1351" y="53" width="6" height="2"/>
</g>
<rect x="188" y="11" width="425" height="36" rx="3.5" ry="3.5" fill="#fff" stroke="#d6d6d6" stroke-width="2"/>
<rect x="195" y="27" width="45" height="3" fill="#0000ff" shape-rendering="crispEdges"/>
<g shape-rendering="crispEdges"><rect x="479" y="20" width="44" height="16" fill="#e5e5e5"/><rect x="479" y="20" width="44" height="1" fill="#d0d0d0"/><rect x="479" y="35" width="44" height="1" fill="#d0d0d0"/><rect x="479" y="20" width="1" height="16" fill="#d0d0d0"/><rect x="522" y="20" width="1" height="16" fill="#d0d0d0"/></g>
<text class="tx" transform="translate(214.95,88.63) scale(1.0495,1)" font-size="25.62" fill="#333333">11/08</text>
<text class="tx" transform="translate(572.95,88.63) scale(1.0513,1)" font-size="25.62" fill="#333333">11/09</text>
<text class="tx" transform="translate(930.96,88.63) scale(1.0476,1)" font-size="25.62" fill="#333333">11/10</text>
<text class="tx" transform="translate(100.23,390.52) scale(0.9984,1)" font-size="23.29" fill="#000">1007.0</text>
<text class="tx" transform="translate(100.69,325.02) scale(1.0180,1)" font-size="23.29" fill="#000">1011.4</text>
<text class="tx" transform="translate(100.21,259.02) scale(1.0081,1)" font-size="23.29" fill="#000">1015.8</text>
<text class="tx" transform="translate(100.23,193.02) scale(0.9958,1)" font-size="23.29" fill="#000">1020.2</text>
<text class="tx" transform="translate(100.21,128.02) scale(1.0083,1)" font-size="23.29" fill="#000">1024.6</text>
<text class="tx" transform="translate(100.21,62.02) scale(1.0066,1)" font-size="23.29" fill="#000">1029.0</text>
<text class="tx" transform="translate(1364.82,390.02) scale(1.0102,1)" font-size="23.29" fill="#000">29.74</text>
<text class="tx" transform="translate(1364.83,325.02) scale(1.0011,1)" font-size="23.29" fill="#000">29.87</text>
<text class="tx" transform="translate(1365.12,259.02) scale(0.9878,1)" font-size="23.29" fill="#000">30.0</text>
<text class="tx" transform="translate(1365.12,193.02) scale(0.9935,1)" font-size="23.29" fill="#000">30.13</text>
<text class="tx" transform="translate(1365.10,128.02) scale(1.0112,1)" font-size="23.29" fill="#000">30.26</text>
<text class="tx" transform="translate(1365.12,62.02) scale(0.9949,1)" font-size="23.29" fill="#000">30.39</text>
<text class="tx" transform="translate(174.86,413.02) scale(0.9701,1)" font-size="23.29" fill="#000">23</text>
<text class="tx" transform="translate(270.50,413.02) scale(0.9373,1)" font-size="23.29" fill="#000">4</text>
<text class="tx" transform="translate(353.32,413.02) scale(0.9474,1)" font-size="23.29" fill="#000">10</text>
<text class="tx" transform="translate(443.31,413.02) scale(0.9521,1)" font-size="23.29" fill="#000">16</text>
<text class="tx" transform="translate(531.86,413.02) scale(0.9762,1)" font-size="23.29" fill="#000">22</text>
<text class="tx" transform="translate(628.50,413.02) scale(0.9373,1)" font-size="23.29" fill="#000">4</text>
<text class="tx" transform="translate(711.32,413.02) scale(0.9474,1)" font-size="23.29" fill="#000">10</text>
<text class="tx" transform="translate(800.31,413.02) scale(0.9521,1)" font-size="23.29" fill="#000">16</text>
<text class="tx" transform="translate(889.86,413.02) scale(0.9762,1)" font-size="23.29" fill="#000">22</text>
<text class="tx" transform="translate(986.50,413.02) scale(0.9373,1)" font-size="23.29" fill="#000">4</text>
<text class="tx" transform="translate(1069.32,413.02) scale(0.9474,1)" font-size="23.29" fill="#000">10</text>
<text class="tx" transform="translate(1158.31,413.02) scale(0.9521,1)" font-size="23.29" fill="#000">16</text>
<text class="tx" transform="translate(1247.86,413.02) scale(0.9762,1)" font-size="23.29" fill="#000">22</text>
<text class="tx" transform="translate(1343.50,413.02) scale(0.9373,1)" font-size="23.29" fill="#000">4</text>
<text class="tx" transform="translate(606.65,442.02) scale(1.0416,1)" font-size="23.29" fill="#000">11/07/25-11/10/25</text>
<text class="tx" transform="translate(813.19,440.52) scale(0.9497,1)" font-size="23.29" fill="#000">Hours(UTC)</text>
<text class="tx" transform="translate(90.02,236.30) rotate(-90) scale(0.9744,1)" font-size="23.29" fill="#000">mb</text>
<text class="tx" transform="translate(1450.02,311.52) rotate(-90) scale(0.9916,1)" font-size="23.29" fill="#000">Inches</text>
<text class="tx" transform="translate(1449.02,237.86) rotate(-90) scale(1.0960,1)" font-size="23.29" fill="#000">of</text>
<text class="tx" transform="translate(1449.02,210.47) rotate(-90) scale(0.9982,1)" font-size="23.29" fill="#000">Mercury</text>
<text class="tx" transform="translate(253.78,35.02) scale(1.0457,1)" font-size="23.29" fill="#000">2m</text>
<text class="tx" transform="translate(294.27,35.02) scale(0.9070,1)" font-size="23.29" fill="#000">MSL</text>
<text class="tx" transform="translate(343.16,35.02) scale(0.9640,1)" font-size="23.29" fill="#000">Pressure</text>
<text class="tx" transform="translate(539.25,35.02) scale(0.9142,1)" font-size="23.29" fill="#000">NIGHT</text>
</svg></body></html>
